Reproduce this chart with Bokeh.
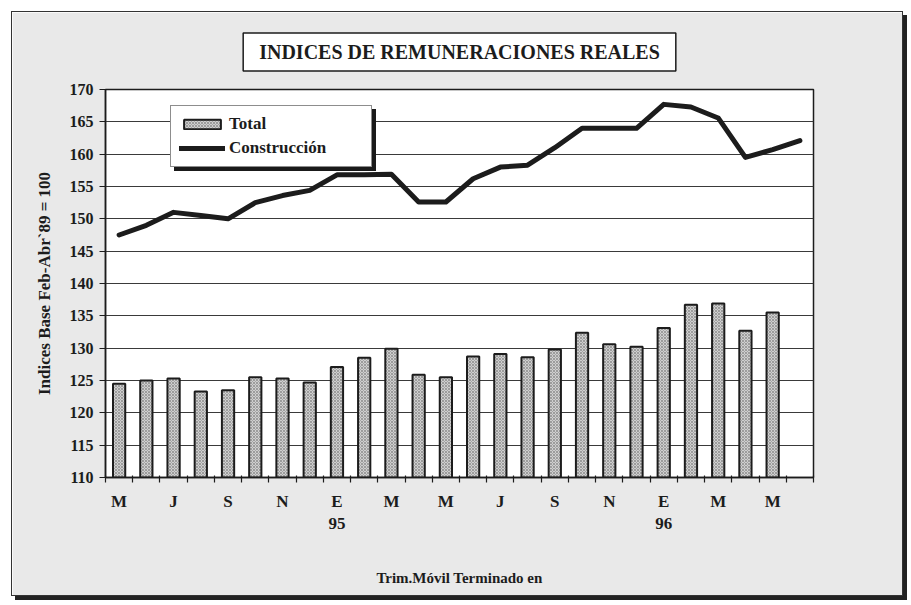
from bokeh.plotting import figure
from bokeh.models import (ColumnDataSource, FixedTicker, LinearAxis, Legend,
                          LegendItem, Range1d, Title)
from bokeh.embed import file_html
from bokeh.resources import INLINE

# ---------------- data ----------------
months = ["May 94", "Jun 94", "Jul 94", "Ago 94", "Sep 94", "Oct 94", "Nov 94",
          "Dic 94", "Ene 95", "Feb 95", "Mar 95", "Abr 95", "May 95", "Jun 95",
          "Jul 95", "Ago 95", "Sep 95", "Oct 95", "Nov 95", "Dic 95", "Ene 96",
          "Feb 96", "Mar 96", "Abr 96", "May 96", "Jun 96"]
total = [124.5, 125.0, 125.3, 123.3, 123.5, 125.5, 125.3, 124.7, 127.1, 128.5,
         129.9, 125.9, 125.5, 128.7, 129.1, 128.6, 129.8, 132.4, 130.6, 130.2,
         133.1, 136.7, 136.9, 132.7, 135.5]
construccion = [147.5, 149.0, 151.0, 150.5, 150.0, 152.5, 153.6, 154.4, 156.8,
                156.8, 156.9, 152.6, 152.6, 156.2, 158.0, 158.3, 161.0, 164.0,
                164.0, 164.0, 167.7, 167.3, 165.6, 159.5, 160.7, 162.1]
tick_positions = [0, 2, 4, 6, 8, 10, 12, 14, 16, 18, 20, 22, 24]
tick_letters = ["M", "J", "S", "N", "E", "M", "M", "J", "S", "N", "E", "M", "M"]
year_positions = [8, 20]
year_labels = ["95", "96"]
y_ticks = [110, 115, 120, 125, 130, 135, 140, 145, 150, 155, 160, 165, 170]

title_text = "INDICES DE REMUNERACIONES REALES"
y_title = "Indices Base Feb-Abr`89 = 100"
x_title = "Trim.Móvil Terminado en"

FONT = "Liberation Serif"
INK = "#1c1c1c"
SHADOW = "#1a1a1a"

n = len(months)
bar_src = ColumnDataSource(dict(x=list(range(len(total))), top=total,
                                month=months[:len(total)]))
line_src = ColumnDataSource(dict(x=list(range(n)), y=construccion, month=months))

ttl = Title(text=title_text, align="center", text_font=FONT,
            text_font_style="bold", text_font_size="20px", text_color=INK,
            background_fill_color="white", border_line_color=INK,
            border_line_width=1.5,
            padding=dict(left=16, right=16, top=8, bottom=8), standoff=37)

p = figure(width=892, height=585, output_backend="svg", toolbar_location=None,
           x_range=Range1d(-0.5, n - 0.5), y_range=Range1d(y_ticks[0], y_ticks[-1]),
           min_border_left=93, min_border_right=91, min_border_top=77,
           min_border_bottom=120, title=ttl)
p.styles = {"border": "1px solid #333", "box-shadow": "4px 4px 0px #222",
            "margin-left": "11px", "margin-top": "11px"}
p.background_fill_color = "white"
p.border_fill_color = "#e9e9e9"
p.outline_line_color = INK
p.outline_line_width = 1.5

p.xgrid.grid_line_color = None
p.ygrid.ticker = FixedTicker(ticks=y_ticks)
p.ygrid.grid_line_color = "#3a3a3a"
p.ygrid.grid_line_width = 1

bars = p.vbar(x="x", top="top", bottom=y_ticks[0], width=0.45, source=bar_src,
              fill_color="#cfcfcf", line_color=INK, line_width=2,
              hatch_pattern="x", hatch_color="#7a7a7a", hatch_scale=3,
              hatch_weight=0.6)
line_r = p.line(x="x", y="y", source=line_src, line_width=5, line_color=INK,
                line_join="round", line_cap="round")

# y axis
ya = p.yaxis[0]
ya.ticker = FixedTicker(ticks=y_ticks)
ya.axis_line_color = INK
ya.axis_line_width = 1.5
ya.major_tick_in = 0
ya.major_tick_out = 6
ya.major_tick_line_color = INK
ya.minor_tick_line_color = None
ya.major_label_standoff = 6
ya.major_label_text_font = FONT
ya.major_label_text_font_style = "bold"
ya.major_label_text_font_size = "16px"
ya.major_label_text_color = INK
ya.axis_label = y_title
ya.axis_label_text_font = FONT
ya.axis_label_text_font_style = "bold"
ya.axis_label_text_font_size = "17px"
ya.axis_label_text_color = INK
ya.axis_label_standoff = 13

# x axis (month letters)
xa = p.xaxis[0]
xa.ticker = FixedTicker(ticks=tick_positions,
                        minor_ticks=[i - 0.5 for i in range(n + 1)])
xa.major_label_overrides = {pos: lab for pos, lab in zip(tick_positions, tick_letters)}
xa.axis_line_color = INK
xa.axis_line_width = 1.5
xa.major_tick_line_color = None
xa.major_tick_in = 0
xa.major_tick_out = 0
xa.minor_tick_line_color = INK
xa.minor_tick_line_width = 1.2
xa.minor_tick_in = 2
xa.minor_tick_out = 5
xa.major_label_standoff = 9
xa.major_label_text_font = FONT
xa.major_label_text_font_style = "bold"
xa.major_label_text_font_size = "17px"
xa.major_label_text_color = INK

# second x axis (years) with axis title
xa2 = LinearAxis(ticker=FixedTicker(ticks=year_positions),
                 major_label_overrides={pos: lab for pos, lab in zip(year_positions, year_labels)})
xa2.axis_line_color = None
xa2.major_tick_line_color = None
xa2.minor_tick_line_color = None
xa2.major_tick_in = 0
xa2.major_tick_out = 0
xa2.major_label_standoff = 4
xa2.major_label_text_font = FONT
xa2.major_label_text_font_style = "bold"
xa2.major_label_text_font_size = "17px"
xa2.major_label_text_color = INK
xa2.axis_label = x_title
xa2.axis_label_text_font = FONT
xa2.axis_label_text_font_style = "bold"
xa2.axis_label_text_font_size = "15px"
xa2.axis_label_text_color = INK
xa2.axis_label_standoff = 38
p.add_layout(xa2, "below")

# legend with drop shadow
def make_legend(loc, bg, fg, border, labels):
    lg = Legend(items=[LegendItem(label=labels[0], renderers=[bars]),
                       LegendItem(label=labels[1], renderers=[line_r])],
                location=loc)
    lg.background_fill_color = bg
    lg.background_fill_alpha = 1.0
    lg.border_line_color = border
    lg.border_line_width = 1
    lg.label_text_font = FONT
    lg.label_text_font_style = "bold"
    lg.label_text_font_size = "17px"
    lg.label_text_color = fg
    lg.glyph_width = 46
    lg.glyph_height = 12
    lg.label_height = 20
    lg.label_width = 134
    lg.label_standoff = 4
    lg.spacing = 4
    lg.padding = 8
    lg.margin = 0
    return lg

p.add_layout(make_legend((69, 306), SHADOW, SHADOW, SHADOW, [" ", " "]), "center")
p.add_layout(make_legend((65, 310), "white", INK, INK, ["Total", "Construcción"]), "center")

open("out.html", "w").write(file_html(p, INLINE))
